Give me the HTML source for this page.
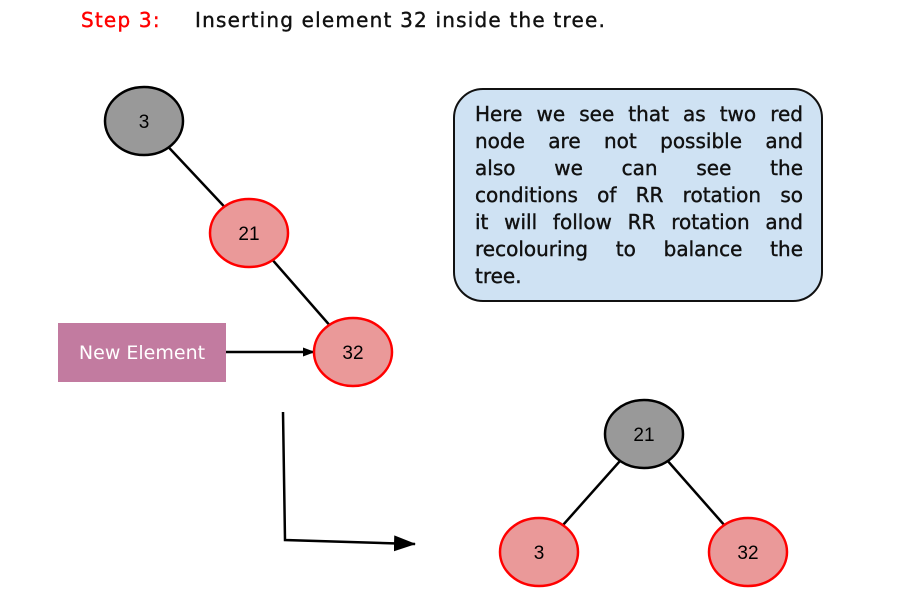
<!DOCTYPE html>
<html><head><style>
body{margin:0;background:#fff;width:898px;height:600px;overflow:hidden;position:relative;font-family:"DejaVu Sans",sans-serif}
.t{position:absolute;font-size:20px;letter-spacing:1.2px;font-family:"DejaVu Sans",sans-serif;-webkit-text-stroke:0.4px}
.box{position:absolute;left:453px;top:88px;width:370px;height:214px;box-sizing:border-box;border:2.5px solid #111;border-radius:30px;background:#cfe2f3}
.box div{position:absolute;left:20px;width:328px;font-size:20px;line-height:27px;color:#111;text-align:justify;text-align-last:justify;white-space:nowrap;-webkit-text-stroke:0.4px #111}
</style></head><body>
<div class="t" style="left:81px;top:8px;color:#f00">Step 3:</div>
<div class="t" style="left:195px;top:8px;color:#111">Inserting element 32 inside the tree.</div>
<svg width="898" height="600" style="position:absolute;left:0;top:0">
<defs><marker id="a" markerWidth="12" markerHeight="9" refX="11" refY="4.5" orient="auto" markerUnits="userSpaceOnUse"><path d="M0,0L12,4.5L0,9z" fill="#000"/></marker>
<marker id="b" markerWidth="22" markerHeight="16" refX="21" refY="8" orient="auto" markerUnits="userSpaceOnUse"><path d="M0,0L22,8L0,16z" fill="#000"/></marker></defs>
<g stroke="#000" stroke-width="2.5" fill="none">
<line x1="144" y1="121" x2="249" y2="233"/><line x1="249" y1="233" x2="353" y2="352"/>
<line x1="644" y1="434" x2="539" y2="552"/><line x1="644" y1="434" x2="748" y2="552"/>
<line x1="226" y1="352" x2="314" y2="352" marker-end="url(#a)"/>
<polyline points="283,412 285,540 415,544" marker-end="url(#b)"/>
</g>
<rect x="58" y="323" width="168" height="59" fill="#c27ba0"/>
<text x="142" y="359" font-size="19" fill="#fff" text-anchor="middle" font-family="DejaVu Sans">New Element</text>
<g font-family="Liberation Sans" font-size="19" text-anchor="middle">
<ellipse cx="144" cy="121" rx="39" ry="34" fill="#999" stroke="#000" stroke-width="2.5"/><text x="144" y="128">3</text>
<ellipse cx="249" cy="233" rx="39" ry="34" fill="#ea9999" stroke="#f00" stroke-width="2.5"/><text x="249" y="240">21</text>
<ellipse cx="353" cy="352" rx="39" ry="34" fill="#ea9999" stroke="#f00" stroke-width="2.5"/><text x="353" y="359">32</text>
<ellipse cx="644" cy="434" rx="39" ry="34" fill="#999" stroke="#000" stroke-width="2.5"/><text x="644" y="441">21</text>
<ellipse cx="539" cy="552" rx="39" ry="34" fill="#ea9999" stroke="#f00" stroke-width="2.5"/><text x="539" y="559">3</text>
<ellipse cx="748" cy="552" rx="39" ry="34" fill="#ea9999" stroke="#f00" stroke-width="2.5"/><text x="748" y="559">32</text>
</g></svg>
<div class="box">
<div style="top:11px">Here we see that as two red</div>
<div style="top:38px">node are not possible and</div>
<div style="top:65px">also we can see the</div>
<div style="top:92px">conditions of RR rotation so</div>
<div style="top:119px">it will follow RR rotation and</div>
<div style="top:146px">recolouring to balance the</div>
<div style="top:173px;text-align-last:left">tree.</div>
</div>
</body></html>
